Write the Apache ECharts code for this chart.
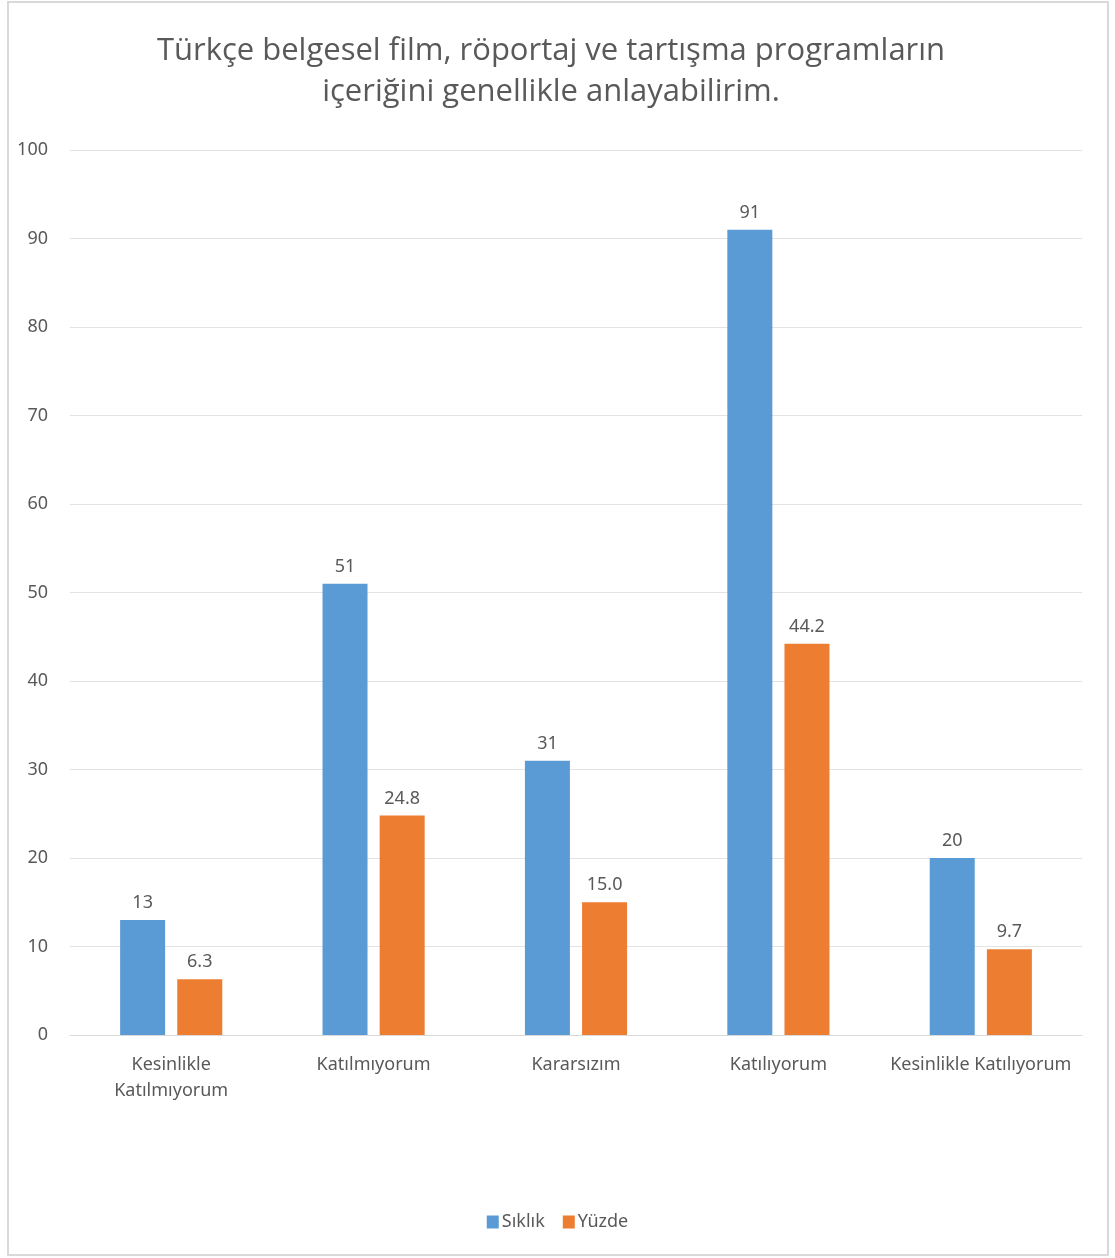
<!DOCTYPE html>
<html>
<head>
<meta charset="utf-8">
<script src="https://cdn.jsdelivr.net/npm/echarts@6/dist/echarts.min.js"></script>
<style>
  html, body { margin: 0; padding: 0; background: #fff; }
  #chart { width: 1115px; height: 1258px; }
</style>
</head>
<body>
<div id="chart"></div>
<script>
const categories = ['Kesinlikle\nKatılmıyorum', 'Katılmıyorum', 'Kararsızım', 'Katılıyorum', 'Kesinlikle Katılıyorum'];
const siklik = [13, 51, 31, 91, 20];
const yuzde = [6.3, 24.8, 15.0, 44.2, 9.7];
const yTicks = { min: 0, max: 100, interval: 10 };

const textColor = '#595959';
const labelFont = '"Noto Sans", sans-serif';
const titleFont = '"Open Sans", sans-serif';

const chart = echarts.init(document.getElementById('chart'));
chart.setOption({
  animation: false,
  backgroundColor: '#ffffff',
  graphic: [{
    type: 'rect',
    shape: { x: 8, y: 2, width: 1100, height: 1253 },
    style: { fill: 'none', stroke: '#d9d9d9', lineWidth: 2 },
    silent: true
  }],
  title: {
    text: 'Türkçe belgesel film, röportaj ve tartışma programların\niçeriğini genellikle anlayabilirim.',
    left: 546,
    textAlign: 'center',
    top: 26,
    textStyle: {
      fontFamily: titleFont,
      fontSize: 31,
      fontWeight: 'normal',
      color: textColor,
      lineHeight: 41
    }
  },
  legend: {
    bottom: 22,
    left: 'center',
    itemWidth: 12,
    itemHeight: 13,
    itemGap: 18,
    icon: 'rect',
    textStyle: { fontFamily: labelFont, fontSize: 18, color: textColor, padding: [0, 0, 0, -2] },
    data: ['Sıklık', 'Yüzde']
  },
  grid: { left: 70, right: 33, top: 150, bottom: 223 },
  xAxis: {
    type: 'category',
    data: categories,
    axisLine: { lineStyle: { color: '#d9d9d9' } },
    axisTick: { show: false },
    axisLabel: {
      interval: 0,
      margin: 17,
      fontFamily: labelFont,
      fontSize: 18,
      color: textColor,
      lineHeight: 26
    }
  },
  yAxis: {
    type: 'value',
    min: yTicks.min,
    max: yTicks.max,
    interval: yTicks.interval,
    axisLine: { show: false },
    axisTick: { show: false },
    splitLine: { lineStyle: { color: '#e3e3e3', width: 1 } },
    axisLabel: {
      margin: 22,
      fontFamily: labelFont,
      fontSize: 18,
      color: textColor,
      padding: [3, 0, 0, 0]
    }
  },
  series: [
    {
      name: 'Sıklık',
      type: 'bar',
      data: siklik,
      barWidth: 45,
      barGap: '27%',
      itemStyle: { color: '#5b9bd5' },
      label: {
        show: true,
        position: 'top',
        distance: 8,
        fontFamily: labelFont,
        fontSize: 18,
        color: textColor,
        formatter: p => String(p.value)
      }
    },
    {
      name: 'Yüzde',
      type: 'bar',
      data: yuzde,
      barWidth: 45,
      itemStyle: { color: '#ed7d31' },
      label: {
        show: true,
        position: 'top',
        distance: 8,
        fontFamily: labelFont,
        fontSize: 18,
        color: textColor,
        formatter: p => p.value.toFixed(1)
      }
    }
  ]
});
</script>
</body>
</html>
